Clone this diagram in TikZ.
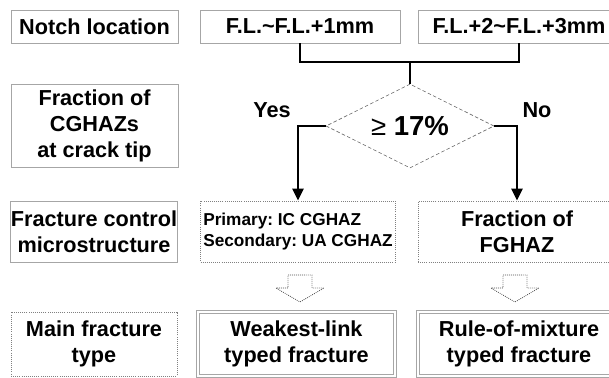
\documentclass[tikz,border=0pt]{standalone}
\usepackage{fontspec}
\setmainfont{Liberation Sans}
\usetikzlibrary{arrows.meta,shapes.geometric}
\frenchspacing

\tikzset{
    box/.style={draw=gray!70, line width=0.8pt, align=center, inner sep=0pt,
        font=\bfseries\fontsize{18.5}{22.5}\selectfont},
    dotbox/.style={box, draw=gray, densely dotted},
    dblbox/.style={box, double, double distance=1.5pt},
    decision/.style={diamond, aspect=2, draw=gray!80!black, densely dashed, line width=0.5pt, inner sep=0pt},
    link/.style={line width=2.2pt},
    hollow/.style={draw=gray!60!black, densely dotted, fill=white, line width=0.7pt},
    answer/.style={font=\bfseries\fontsize{18.5}{22.5}\selectfont}
}

\begin{document}
\begin{tikzpicture}[>={Triangle[length=3.6mm, width=3.3mm]}]
    \useasboundingbox (0,0) rectangle (18.27,11.31);
    \clip (0,0) rectangle (18.27,11.31);

    % Cột nhãn bên trái
    \node[box, minimum width=5.01cm, minimum height=0.99cm] (notch) at (2.835,10.515) {Notch location};
    \node[box, minimum width=5.01cm, minimum height=2.49cm] (cghaz) at (2.835,7.53) {Fraction of\\CGHAZs\\at crack tip};
    \node[box, minimum width=4.98cm, minimum height=1.83cm] (ctrl) at (2.82,4.365) {Fracture control\\microstructure};
    \node[dotbox, minimum width=4.98cm, minimum height=1.92cm] (main) at (2.82,0.99) {Main fracture\\type};

    % Vị trí rãnh khía
    \node[box, minimum width=6cm, minimum height=0.99cm] (fl1) at (9.0,10.515) {F.L.\textasciitilde F.L.+1mm};
    \node[box, minimum width=6.06cm, minimum height=0.99cm] (fl2) at (15.57,10.515) {F.L.+2\textasciitilde F.L.+3mm};

    % Ô quyết định
    \node[decision, minimum width=5.04cm, minimum height=2.52cm] (dia) at (12.3,7.53)
        {\fontsize{23.5}{28}\selectfont{\mdseries ≥} \textbf{17\%}};
    \node[answer] (yes) at (8.16,8.01) {Yes};
    \node[answer] (no) at (16.11,8.01) {No};

    % Vi cấu trúc khống chế
    \node[dotbox, minimum width=5.85cm, minimum height=1.83cm, align=left,
        font=\bfseries\fontsize{14.7}{18}\selectfont] (primary) at (8.94,4.365)
        {Primary: IC CGHAZ\\Secondary: UA CGHAZ};
    \node[dotbox, minimum width=5.94cm, minimum height=1.83cm] (fghaz) at (15.51,4.365) {Fraction of\\FGHAZ};

    % Kiểu phá hủy
    \node[dblbox, minimum width=5.91cm, minimum height=1.92cm] (weak) at (8.895,0.99) {Weakest-link\\typed fracture};
    \node[dblbox, minimum width=6.06cm, minimum height=1.92cm] (rule) at (15.57,0.99) {Rule-of-mixture\\typed fracture};

    % Đường nối
    \coordinate (join) at (12.3,9.45);
    \draw[link] (fl1.south) |- (join) -| (fl2.south);
    \draw[link] (join) -- (dia.north);
    \draw[link, ->] (dia.west) -| (primary.north);
    \draw[link, ->] (dia.east) -| (fghaz.north);

    % Mũi tên rỗng
    \foreach \xa in {9.0,15.45} {
        \draw[hollow] (\xa-0.36,3.06) -- (\xa+0.36,3.06) -- (\xa+0.36,2.67) -- (\xa+0.72,2.67)
            -- (\xa,2.25) -- (\xa-0.72,2.67) -- (\xa-0.36,2.67) -- cycle;
    }
\end{tikzpicture}
\end{document}
